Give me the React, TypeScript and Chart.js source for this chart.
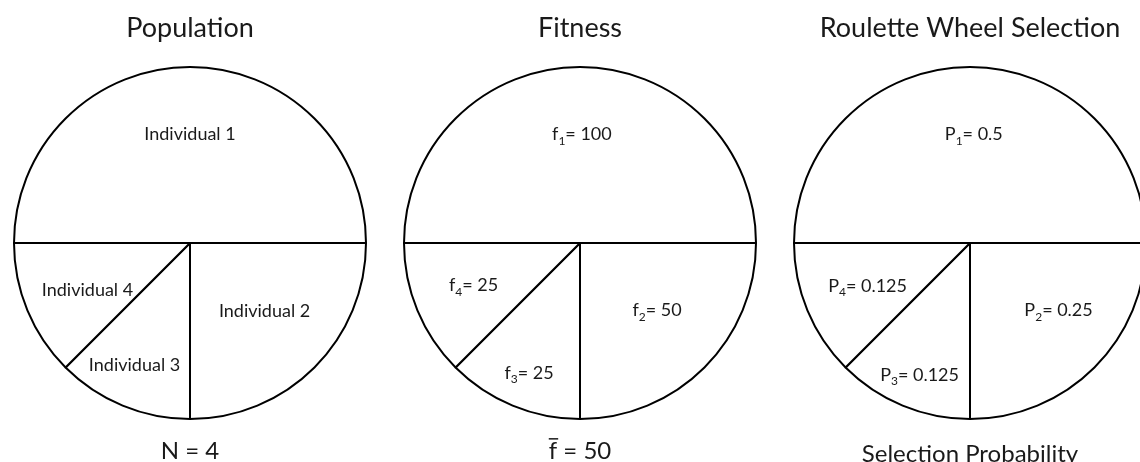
import { useEffect, useRef } from "react";
import { Chart, registerables } from "chart.js";

Chart.register(...registerables);

// ---- data ----
const individuals = ["Individual 1", "Individual 2", "Individual 3", "Individual 4"];
const fitness = [100, 50, 25, 25];
const selectionProbability = [0.5, 0.25, 0.125, 0.125];
const panelTitles = ["Population", "Fitness", "Roulette Wheel Selection"];
const selectionCaption = "Selection Probability";

const populationSize = fitness.length;
const meanFitness = fitness.reduce((a, b) => a + b, 0) / fitness.length;

// ---- text helpers ----
type Part = { text: string; sub?: boolean; overline?: boolean };

const FONT_FAMILY = "Lato, 'Open Sans', 'Noto Sans', sans-serif";
const INK = "#1a1a1a";

function drawParts(
  ctx: CanvasRenderingContext2D,
  parts: Part[],
  cx: number,
  baseline: number,
  size: number
) {
  const mainFont = `${size}px ${FONT_FAMILY}`;
  const subFont = `${Math.round(size * 0.68)}px ${FONT_FAMILY}`;
  const widths = parts.map((p) => {
    ctx.font = p.sub ? subFont : mainFont;
    return ctx.measureText(p.text).width;
  });
  const total = widths.reduce((a, b) => a + b, 0);
  let x = cx - total / 2;
  ctx.save();
  ctx.fillStyle = INK;
  ctx.textAlign = "left";
  ctx.textBaseline = "alphabetic";
  parts.forEach((p, i) => {
    ctx.font = p.sub ? subFont : mainFont;
    const y = p.sub ? baseline + size * 0.24 : baseline;
    ctx.fillText(p.text, x, y);
    if (p.overline) {
      ctx.strokeStyle = INK;
      ctx.lineWidth = 1.5;
      ctx.beginPath();
      const oy = baseline - size * 0.84;
      ctx.moveTo(x, oy);
      ctx.lineTo(x + widths[i] + 1, oy);
      ctx.stroke();
    }
    x += widths[i];
  });
  ctx.restore();
}

// ---- panels ----
type Panel = {
  cx: number;
  title: string;
  values: number[];
  labels: Part[][];
  anchors: [number, number][]; // [fraction of radius, angular shift in degrees]
  caption: Part[];
  captionBaseline: number;
};

const panels: Panel[] = [
  {
    cx: 190,
    title: panelTitles[0],
    values: fitness,
    labels: individuals.map((name) => [{ text: name }]),
    anchors: [
      [0.62, 0],
      [0.57, -3],
      [0.76, 2],
      [0.64, -2],
    ],
    caption: [{ text: `N = ${populationSize}` }],
    captionBaseline: 459,
  },
  {
    cx: 580,
    title: panelTitles[1],
    values: fitness,
    labels: fitness.map((v, i) => [
      { text: "f" },
      { text: String(i + 1), sub: true },
      { text: `= ${v}` },
    ]),
    anchors: [
      [0.62, 1],
      [0.58, -4],
      [0.79, -1],
      [0.65, 1],
    ],
    caption: [{ text: "f", overline: true }, { text: ` = ${meanFitness}` }],
    captionBaseline: 459,
  },
  {
    cx: 970,
    title: panelTitles[2],
    values: selectionProbability,
    labels: selectionProbability.map((v, i) => [
      { text: "P" },
      { text: String(i + 1), sub: true },
      { text: `= ${v}` },
    ]),
    anchors: [
      [0.62, 2],
      [0.63, -8],
      [0.8, -1.5],
      [0.63, 0],
    ],
    caption: [{ text: selectionCaption }],
    captionBaseline: 462,
  },
];

const CANVAS_W = 390;
const CANVAS_H = 462;

function PiePanel({ panel }: { panel: Panel }) {
  const ref = useRef<HTMLCanvasElement | null>(null);

  useEffect(() => {
    const canvas = ref.current;
    if (!canvas) return;

    const annotate = {
      id: "panelText",
      afterDatasetsDraw(chart: any) {
        const ctx = chart.ctx as CanvasRenderingContext2D;
        const meta = chart.getDatasetMeta(0);
        meta.data.forEach((arc: any, i: number) => {
          const { x, y, startAngle, endAngle, outerRadius } = arc.getProps(
            ["x", "y", "startAngle", "endAngle", "outerRadius"],
            true
          );
          const [frac, shift] = panel.anchors[i];
          const a = (startAngle + endAngle) / 2 + (shift * Math.PI) / 180;
          const px = x + Math.cos(a) * outerRadius * frac;
          const py = y + Math.sin(a) * outerRadius * frac;
          drawParts(ctx, panel.labels[i], px, py + 6.5, 18);
        });
        const midX = chart.chartArea.left + chart.chartArea.width / 2;
        drawParts(ctx, [{ text: panel.title }], midX, 37, 27);
        drawParts(ctx, panel.caption, midX, panel.captionBaseline, 24);
      },
    };

    const chart = new Chart(canvas, {
      type: "pie",
      data: {
        labels: panel.labels.map((l) => l.map((p) => p.text).join("")),
        datasets: [
          {
            data: panel.values,
            backgroundColor: "#ffffff",
            borderColor: "#000000",
            borderWidth: 2,
          },
        ],
      },
      options: {
        responsive: false,
        animation: false,
        devicePixelRatio: 1,
        events: [],
        rotation: -90,
        radius: 176,
        layout: { padding: { top: 50, bottom: 26, left: 0, right: 0 } },
        plugins: {
          legend: { display: false },
          tooltip: { enabled: false },
          title: { display: false },
        },
      } as any,
      plugins: [annotate],
    });

    return () => chart.destroy();
  }, [panel]);

  return (
    <canvas
      ref={ref}
      width={CANVAS_W}
      height={CANVAS_H}
      style={{
        position: "absolute",
        left: panel.cx - CANVAS_W / 2,
        top: 0,
        width: CANVAS_W,
        height: CANVAS_H,
      }}
    />
  );
}

export default function App() {
  useEffect(() => {
    document.body.style.margin = "0";
    document.body.style.background = "#ffffff";
  }, []);

  return (
    <div
      style={{
        position: "relative",
        width: 1140,
        height: 462,
        overflow: "hidden",
        background: "#ffffff",
      }}
    >
      {panels.map((p) => (
        <PiePanel key={p.title} panel={p} />
      ))}
    </div>
  );
}
